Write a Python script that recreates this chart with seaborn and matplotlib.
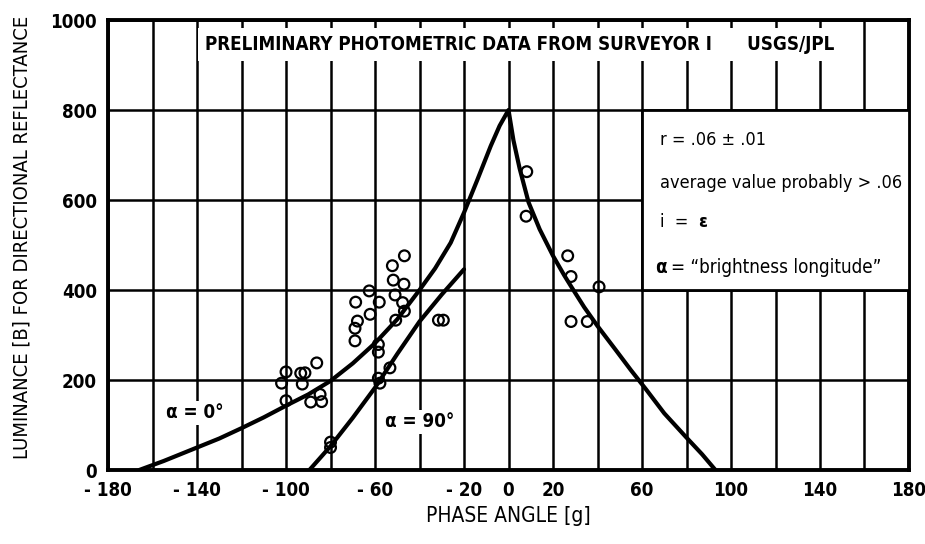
import matplotlib
matplotlib.use("Agg")
import matplotlib.pyplot as plt
import matplotlib.patches as mpatches
import pandas as pd
import seaborn as sns

# curve alpha = 0 deg
alpha0_x = [-166, -155, -140, -130, -120, -110, -100, -90, -80, -70, -60, -50,
            -40, -33, -26, -20, -14, -8, -4, 0,
            2.2, 5, 9, 14, 20, 25, 28.5, 34, 40, 48, 55, 62, 70, 80, 87, 93]
alpha0_y = [0, 20, 50, 70, 93, 117, 143, 168, 198, 237, 282, 335,
            400, 448, 505, 572, 645, 720, 765, 800,
            733, 670, 595, 535, 476, 433, 405, 362, 320, 268, 222, 178, 126, 72, 35, 0]

# curve alpha = 90 deg
alpha90_x = [-89.5, -85, -80, -70, -60, -50, -40, -30, -20]
alpha90_y = [0, 25, 53, 116, 183, 258, 330, 390, 446]

# measured points
obs_x = [-100, -102, -100, -93.4, -91.5, -92.7, -86.2, -88.9, -84.7, -84,
         -80, -80,
         -46.8, -52.2, -51.8, -47, -62.6, -68.7, -58.1, -51, -47.6, -46.8,
         -62.2, -67.9, -69, -69, -50.7, -58.5, -58.5, -53.3, -58.5, -57.8,
         -31.5, -29.3,
         8.2, 7.9, 26.6, 28.1, 40.7, 28.1, 35.4]
obs_y = [218, 193, 154, 215, 216, 191, 238, 151, 168, 152,
         62, 50,
         476, 454, 422, 413, 398, 373, 373, 389, 372, 353,
         346, 331, 315, 287, 333, 279, 262, 227, 204, 193,
         333, 333,
         663, 564, 476, 430, 407, 330, 330]

x_ticks = [-180, -140, -100, -60, -20, 0, 20, 60, 100, 140, 180]
x_labels = ["- 180", "- 140", "- 100", "- 60", "- 20", "0", "20", "60", "100", "140", "180"]
y_ticks = [0, 200, 400, 600, 800, 1000]

sns.set_style("white")
plt.rcParams["font.family"] = ["Liberation Sans Narrow", "DejaVu Sans"]
plt.rcParams["font.stretch"] = "condensed"
plt.rcParams["text.color"] = "black"
plt.rcParams["axes.labelcolor"] = "black"

fig = plt.figure(figsize=(9.25, 5.44), dpi=100)
ax = fig.add_axes([0.1168, 0.136, 0.8659, 0.8272])

df0 = pd.DataFrame({"x": alpha0_x, "y": alpha0_y})
df90 = pd.DataFrame({"x": alpha90_x, "y": alpha90_y})
dfo = pd.DataFrame({"x": obs_x, "y": obs_y})

sns.lineplot(data=df0, x="x", y="y", color="black", linewidth=3, estimator=None, ax=ax, zorder=4)
sns.lineplot(data=df90, x="x", y="y", color="black", linewidth=3, estimator=None, ax=ax, zorder=4)
sns.scatterplot(data=dfo, x="x", y="y", s=60, facecolor="none", edgecolor="black",
                linewidth=1.6, ax=ax, zorder=5)

ax.set_xlim(-180, 180)
ax.set_ylim(0, 1000)
ax.set_xticks(x_ticks)
ax.set_xticklabels(x_labels, fontsize=13.5, fontweight="bold")
ax.set_xticks(range(-180, 181, 20), minor=True)
ax.set_yticks(y_ticks)
ax.set_yticklabels([str(v) for v in y_ticks], fontsize=13.5, fontweight="bold")
ax.tick_params(which="both", length=0, pad=8, colors="black")
ax.grid(True, which="both", color="black", linewidth=1.8)
ax.set_axisbelow(True)
for sp in ax.spines.values():
    sp.set_visible(True)
    sp.set_color("black")
    sp.set_linewidth(2.8)

ax.set_xlabel("PHASE ANGLE [g]", fontsize=15, labelpad=4)
ax.set_ylabel("LUMINANCE [B] FOR DIRECTIONAL REFLECTANCE", fontsize=14.5)
ax.yaxis.set_label_coords(-0.095, 0.518)

# title strip
ax.text(5, 945, "PRELIMINARY PHOTOMETRIC DATA FROM SURVEYOR I      USGS/JPL",
        ha="center", va="center", fontsize=13.5, fontweight="bold", zorder=3,
        bbox=dict(facecolor="white", edgecolor="none", pad=5))

# note box
ax.add_patch(mpatches.Rectangle((60, 400), 120, 400, facecolor="white",
                                edgecolor="black", linewidth=2, zorder=3))
ax.text(68, 733, "r = .06 ± .01", fontsize=13, va="center", zorder=4)
ax.text(68, 638, "average value probably > .06", fontsize=13, va="center", zorder=4)
ax.text(68, 551, "i  =", fontsize=13, va="center", zorder=4)
ax.text(85, 551, "ε", fontsize=13, fontweight="bold", va="center", zorder=4)
ax.text(66, 451, "α", fontsize=13.5, fontweight="bold", va="center", zorder=4)
ax.text(73, 451, "= “brightness longitude”", fontsize=13.5, va="center", zorder=4)

# curve labels
ax.text(-141, 127, "α = 0°", fontsize=13.5, fontweight="bold", ha="center", va="center",
        zorder=3, bbox=dict(facecolor="white", edgecolor="none", pad=2))
ax.text(-40, 107, "α = 90°", fontsize=13.5, fontweight="bold", ha="center", va="center",
        zorder=3, bbox=dict(facecolor="white", edgecolor="none", pad=2))

fig.savefig("out.png", dpi=100)
